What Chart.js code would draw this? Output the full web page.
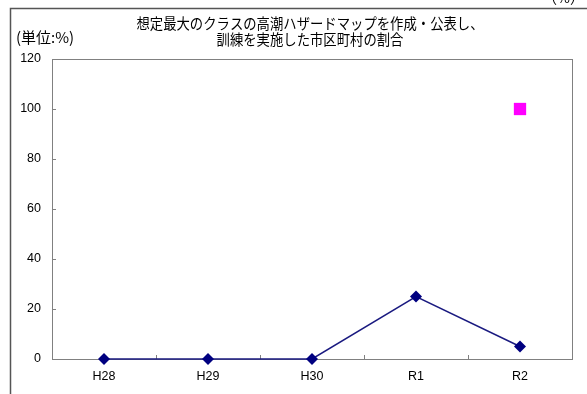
<!DOCTYPE html>
<html>
<head>
<meta charset="utf-8">
<script src="https://cdn.jsdelivr.net/npm/chart.js@4/dist/chart.umd.min.js"></script>
<style>
  html, body { margin: 0; padding: 0; background: #fff; }
  #wrap { width: 587px; height: 394px; position: relative; }
</style>
</head>
<body>
<div id="wrap"><canvas id="c" width="587" height="394"></canvas></div>
<script>
// Fiscal years and shares (%) of municipalities
const years = ['H28', 'H29', 'H30', 'R1', 'R2'];
const actualShare = [0, 0, 0, 25, 5];
const targetShare = [null, null, null, null, 100];
const yTicks = [0, 20, 40, 60, 80, 100, 120];
const titleLines = ['想定最大のクラスの高潮ハザードマップを作成・公表し、', '訓練を実施した市区町村の割合'];
const unitLabel = '(単位:%)';
const cornerLabel = '（%）';

const JP = '"Noto Sans CJK JP", "Noto Sans", sans-serif';
const AR = '"Liberation Sans", Arial, sans-serif';

// Frame, headings and inward tick marks
const decor = {
  id: 'decor',
  beforeDraw(chart) {
    const ctx = chart.ctx;
    ctx.save();
    ctx.fillStyle = '#fff';
    ctx.fillRect(0, 0, chart.width, chart.height);
    // outer frame (top and left edges visible)
    ctx.strokeStyle = '#555';
    ctx.lineWidth = 1.5;
    ctx.beginPath();
    ctx.moveTo(10.5, chart.height);
    ctx.lineTo(10.5, 8.5);
    ctx.lineTo(chart.width, 8.5);
    ctx.stroke();
    // clipped corner label above frame
    ctx.fillStyle = '#000';
    ctx.font = '14px ' + JP;
    ctx.textAlign = 'right';
    ctx.textBaseline = 'alphabetic';
    ctx.fillText(cornerLabel, 584, 3);
    // title
    ctx.font = '15px ' + JP;
    ctx.textAlign = 'center';
    ctx.textBaseline = 'middle';
    titleLines.forEach((t, i) => {
      ctx.save();
      ctx.translate(310, 23 + i * 16);
      ctx.scale(0.89, 1);
      ctx.fillText(t, 0, 0);
      ctx.restore();
    });
    // unit
    ctx.font = '15px ' + JP;
    ctx.textAlign = 'left';
    ctx.fillText(unitLabel, 16, 37);
    ctx.restore();
  },
  beforeDatasetsDraw(chart) {
    const ctx = chart.ctx;
    const a = chart.chartArea;
    const xs = chart.scales.x, ys = chart.scales.y;
    ctx.save();
    ctx.strokeStyle = '#808080';
    ctx.lineWidth = 1;
    ctx.strokeRect(Math.round(a.left) + 0.5, Math.round(a.top) + 0.5,
                   Math.round(a.right - a.left), Math.round(a.bottom - a.top));
    ctx.beginPath();
    // x ticks between categories
    for (let i = 1; i < years.length; i++) {
      const px = Math.round((xs.getPixelForValue(i - 1) + xs.getPixelForValue(i)) / 2) + 0.5;
      ctx.moveTo(px, a.bottom);
      ctx.lineTo(px, a.bottom - 4);
    }
    // y ticks
    yTicks.forEach(v => {
      const py = Math.round(ys.getPixelForValue(v)) + 0.5;
      ctx.moveTo(a.left, py);
      ctx.lineTo(a.left + 4, py);
    });
    ctx.stroke();
    ctx.restore();
  }
};

new Chart(document.getElementById('c'), {
  type: 'line',
  data: {
    labels: years,
    datasets: [
      {
        data: actualShare,
        borderColor: '#1a1a80',
        borderWidth: 1.5,
        backgroundColor: '#000080',
        pointStyle: 'rectRot',
        pointRadius: 6,
        pointBorderWidth: 0,
        pointBackgroundColor: '#000080',
        tension: 0,
        clip: false
      },
      {
        data: targetShare,
        showLine: false,
        pointStyle: 'rect',
        pointRadius: 8.7,
        pointBorderWidth: 0,
        pointBackgroundColor: '#ff00ff',
        backgroundColor: '#ff00ff',
        clip: false
      }
    ]
  },
  options: {
    responsive: false,
    animation: false,
    devicePixelRatio: 1,
    layout: { padding: { top: 59, right: 15, left: 0, bottom: 0 } },
    plugins: { legend: { display: false }, title: { display: false }, tooltip: { enabled: false } },
    scales: {
      x: {
        offset: true,
        grid: { display: false, drawTicks: false },
        border: { display: false },
        ticks: { color: '#000', font: { family: AR, size: 12.5 }, padding: 10 },
        afterFit(s) { s.height = 35; }
      },
      y: {
        min: 0, max: 120,
        afterBuildTicks(s) { s.ticks = yTicks.map(v => ({ value: v })); },
        grid: { display: false, drawTicks: false },
        border: { display: false },
        ticks: { color: '#000', font: { family: AR, size: 12.5 }, padding: 11 },
        afterFit(s) { s.width = 52; }
      }
    }
  },
  plugins: [decor]
});
</script>
</body>
</html>
